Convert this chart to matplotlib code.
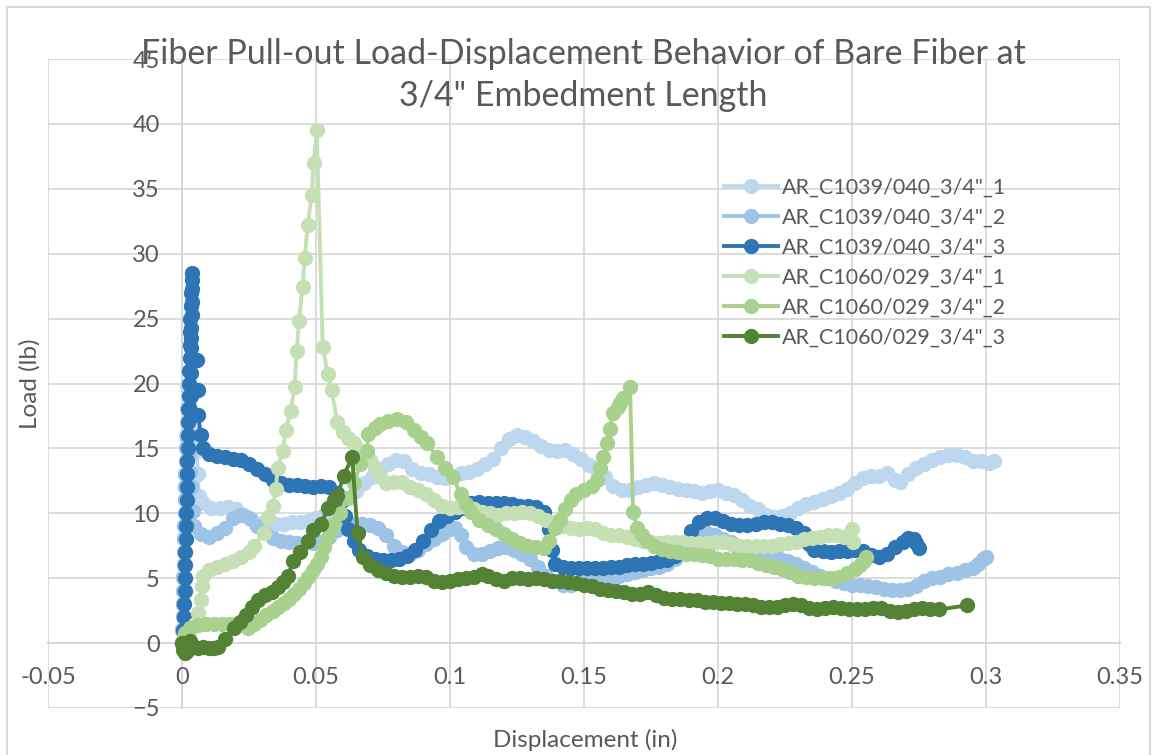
import matplotlib
matplotlib.use("Agg")
import matplotlib.pyplot as plt
from matplotlib.lines import Line2D

plt.rcParams['font.family'] = ['Lato', 'DejaVu Sans']

# ---- data (displacement in, load lb) ----
labels = [
    'AR_C1039/040_3/4"_1',
    'AR_C1039/040_3/4"_2',
    'AR_C1039/040_3/4"_3',
    'AR_C1060/029_3/4"_1',
    'AR_C1060/029_3/4"_2',
    'AR_C1060/029_3/4"_3',
]
colors = ['#BDD7EE', '#9DC3E6', '#2E75B6', '#C5E0B4', '#A9D18E', '#548235']

c1039_1_x = [0, 0.0001, 0.0002, 0.0003, 0.0004, 0.0005, 0.0006, 0.0007, 0.0008, 0.0009,
             0.001, 0.0011, 0.0012, 0.0013, 0.0014, 0.0015, 0.0016, 0.0017, 0.0018, 0.002,
             0.003, 0.0045, 0.0055, 0.006, 0.0062, 0.008, 0.011, 0.014, 0.017, 0.020,
             0.023, 0.026, 0.029, 0.032, 0.035, 0.038, 0.041, 0.044, 0.047, 0.050,
             0.053, 0.056, 0.059, 0.062, 0.065, 0.068, 0.071, 0.074, 0.077, 0.080,
             0.083, 0.086, 0.089, 0.092, 0.095, 0.098, 0.101, 0.104, 0.107, 0.110,
             0.113, 0.116, 0.119, 0.122, 0.125, 0.128, 0.131, 0.134, 0.137, 0.140,
             0.143, 0.146, 0.149, 0.152, 0.155, 0.158, 0.161, 0.164, 0.167, 0.170,
             0.173, 0.176, 0.179, 0.182, 0.185, 0.188, 0.191, 0.194, 0.197, 0.200,
             0.203, 0.206, 0.209, 0.212, 0.215, 0.218, 0.221, 0.224, 0.227, 0.230,
             0.233, 0.236, 0.239, 0.242, 0.245, 0.248, 0.251, 0.254, 0.257, 0.260,
             0.263, 0.266, 0.268, 0.271, 0.274, 0.277, 0.280, 0.283, 0.286, 0.289,
             0.292, 0.295, 0.298, 0.301, 0.303]
c1039_1_y = [0, 1.1, 2.0, 3.1, 4.0, 5.0, 6.1, 7.0, 8.0, 9.1,
             10.0, 11.0, 12.1, 13.0, 14.0, 15.1, 16.0, 17.0, 18.1, 19.8,
             19.0, 16.5, 14.8, 13.0, 11.3, 10.8, 10.4, 10.4, 10.5, 10.3,
             9.9, 9.5, 9.2, 9.1, 9.2, 9.2, 9.3, 9.3, 9.4, 9.6,
             9.9, 10.3, 10.8, 11.2, 11.7, 12.3, 12.8, 13.3, 13.8, 14.1,
             14.0, 13.4, 13.1, 13.0, 12.8, 12.7, 12.9, 13.1, 13.2, 13.4,
             13.8, 14.2, 15.0, 15.7, 16.0, 15.9, 15.6, 15.2, 14.9, 14.8,
             14.9, 14.6, 14.2, 13.7, 13.3, 12.8, 12.1, 11.8, 11.8, 12.0,
             12.2, 12.3, 12.2, 12.0, 11.9, 11.8, 11.7, 11.6, 11.7, 11.8,
             11.6, 11.4, 11.0, 10.6, 10.3, 9.9, 9.7, 9.8, 10.0, 10.4,
             10.7, 10.9, 11.1, 11.3, 11.6, 11.9, 12.3, 12.7, 12.9, 12.9,
             13.1, 12.6, 12.4, 13.0, 13.5, 13.8, 14.1, 14.3, 14.5, 14.5,
             14.3, 14.0, 14.0, 13.9, 14.0]

c1039_2_x = [0, 0.0001, 0.0002, 0.0003, 0.0004, 0.0005, 0.0006, 0.0007, 0.0008, 0.0009,
             0.001, 0.0011, 0.0012, 0.0013, 0.0014, 0.0015, 0.0017, 0.0025, 0.003, 0.0035,
             0.004, 0.0045, 0.007, 0.010, 0.013, 0.016, 0.019, 0.022, 0.025, 0.028,
             0.031, 0.034, 0.037, 0.040, 0.043, 0.046, 0.049, 0.052, 0.055, 0.058,
             0.061, 0.064, 0.067, 0.070, 0.073, 0.076, 0.079, 0.082, 0.085, 0.088,
             0.091, 0.094, 0.097, 0.100, 0.102, 0.104, 0.106, 0.109, 0.112, 0.115,
             0.118, 0.121, 0.124, 0.127, 0.130, 0.133, 0.136, 0.139, 0.142, 0.145,
             0.148, 0.151, 0.154, 0.157, 0.160, 0.163, 0.166, 0.169, 0.172, 0.175,
             0.178, 0.181, 0.184, 0.187, 0.190, 0.193, 0.196, 0.199, 0.202, 0.205,
             0.208, 0.211, 0.214, 0.217, 0.220, 0.223, 0.226, 0.229, 0.232, 0.235,
             0.238, 0.241, 0.244, 0.247, 0.250, 0.253, 0.256, 0.259, 0.262, 0.265,
             0.268, 0.271, 0.274, 0.277, 0.280, 0.283, 0.286, 0.289, 0.292, 0.295,
             0.297, 0.299, 0.300]
c1039_2_y = [0, 1.0, 2.1, 3.0, 4.0, 5.1, 6.0, 7.0, 8.1, 9.0,
             10.0, 11.1, 12.0, 13.0, 14.0, 15.0, 15.8, 14.5, 13.2, 12.0,
             10.2, 9.0, 8.4, 8.2, 8.5, 8.9, 9.6, 9.9, 9.6, 9.0,
             8.5, 8.1, 7.9, 7.8, 7.7, 7.7, 7.7, 7.8, 8.2, 8.7,
             9.0, 9.2, 9.2, 9.1, 8.9, 8.3, 7.5, 7.0, 6.9, 7.2,
             7.6, 8.0, 8.4, 8.8, 8.9, 8.3, 7.4, 6.9, 6.9, 7.1,
             7.3, 7.4, 7.2, 6.9, 6.5, 5.9, 5.2, 4.8, 4.5, 4.5,
             4.7, 5.0, 5.1, 5.1, 5.1, 5.2, 5.3, 5.5, 5.6, 5.8,
             5.9, 6.1, 6.5, 7.3, 8.0, 8.4, 8.5, 8.3, 8.0, 7.8,
             7.5, 7.3, 7.1, 6.9, 6.7, 6.5, 6.3, 6.1, 5.8, 5.5,
             5.2, 5.0, 4.8, 4.6, 4.5, 4.5, 4.4, 4.3, 4.2, 4.1,
             4.1, 4.2, 4.4, 4.8, 5.0, 5.1, 5.3, 5.4, 5.6, 5.8,
             6.1, 6.5, 6.6]

c1039_3_x = [0, 0.0004, 0.0006, 0.0008, 0.001, 0.0011, 0.0012, 0.0013, 0.0014, 0.0015,
             0.0016, 0.0017, 0.0018, 0.0019, 0.002, 0.0021, 0.0022, 0.0023, 0.0024, 0.0025,
             0.0026, 0.0027, 0.0028, 0.0029, 0.003, 0.0031, 0.0032, 0.0034, 0.0036, 0.0038,
             0.0038, 0.0037, 0.0036, 0.0035, 0.0034, 0.0033, 0.0055, 0.0032, 0.006, 0.0035,
             0.006, 0.007, 0.008, 0.010, 0.013, 0.016, 0.019, 0.022, 0.025, 0.028,
             0.031, 0.034, 0.037, 0.040, 0.043, 0.046, 0.049, 0.052, 0.055, 0.058,
             0.060, 0.061, 0.062, 0.064, 0.066, 0.069, 0.072, 0.075, 0.078, 0.081,
             0.084, 0.087, 0.090, 0.093, 0.096, 0.099, 0.102, 0.105, 0.108, 0.111,
             0.114, 0.117, 0.120, 0.123, 0.126, 0.129, 0.132, 0.135, 0.137, 0.138,
             0.139, 0.142, 0.145, 0.148, 0.151, 0.154, 0.157, 0.160, 0.163, 0.166,
             0.169, 0.172, 0.175, 0.178, 0.181, 0.184, 0.187, 0.190, 0.193, 0.196,
             0.199, 0.202, 0.205, 0.208, 0.211, 0.214, 0.217, 0.220, 0.223, 0.226,
             0.229, 0.232, 0.234, 0.236, 0.239, 0.242, 0.245, 0.248, 0.251, 0.254,
             0.257, 0.260, 0.263, 0.266, 0.269, 0.271, 0.273, 0.274, 0.275]
c1039_3_y = [0, 1.0, 2.0, 3.0, 4.0, 5.0, 6.0, 7.0, 8.0, 9.0,
             10.0, 11.0, 12.0, 13.0, 14.0, 15.0, 16.0, 17.0, 18.0, 19.0,
             20.0, 21.0, 22.0, 23.0, 24.0, 25.0, 26.0, 27.0, 28.0, 28.5,
             27.3, 26.3, 25.3, 24.3, 23.5, 22.7, 21.8, 20.8, 19.5, 19.0,
             17.6, 16.0, 15.0, 14.6, 14.4, 14.3, 14.2, 14.1, 13.8, 13.4,
             13.0, 12.6, 12.3, 12.2, 12.2, 12.1, 12.0, 12.1, 12.0, 11.6,
             11.0, 9.8, 8.8, 7.9, 7.2, 6.7, 6.5, 6.4, 6.4, 6.5,
             6.7, 7.2, 7.9, 8.7, 9.4, 9.8, 10.1, 10.4, 10.8, 10.9,
             10.8, 10.8, 10.8, 10.7, 10.6, 10.6, 10.5, 10.1, 8.8, 7.2,
             6.1, 5.9, 5.8, 5.8, 5.8, 5.8, 5.8, 5.9, 5.9, 6.0,
             6.1, 6.1, 6.2, 6.3, 6.4, 6.7, 7.6, 8.6, 9.3, 9.6,
             9.6, 9.4, 9.2, 9.1, 9.1, 9.2, 9.3, 9.3, 9.2, 9.1,
             8.9, 8.5, 7.6, 7.2, 7.1, 7.0, 7.1, 7.1, 7.2, 7.1,
             6.8, 6.6, 6.9, 7.4, 7.8, 8.1, 8.0, 7.7, 7.3]

c1060_1_x = [0, 0.001, 0.003, 0.005, 0.006, 0.007, 0.0075, 0.008, 0.010, 0.013,
             0.016, 0.019, 0.022, 0.025, 0.027, 0.0305, 0.032, 0.0339, 0.035, 0.0357,
             0.0376, 0.0387, 0.0406, 0.042, 0.0428, 0.0436, 0.045, 0.0458, 0.0469, 0.0484,
             0.0491, 0.0503, 0.0525, 0.0544, 0.0558, 0.058, 0.060, 0.062, 0.064, 0.066,
             0.068, 0.070, 0.072, 0.074, 0.076, 0.079, 0.082, 0.085, 0.088, 0.091,
             0.094, 0.097, 0.100, 0.103, 0.106, 0.109, 0.112, 0.115, 0.118, 0.121,
             0.124, 0.127, 0.130, 0.133, 0.136, 0.139, 0.142, 0.145, 0.148, 0.151,
             0.154, 0.157, 0.160, 0.163, 0.166, 0.169, 0.172, 0.175, 0.178, 0.181,
             0.184, 0.187, 0.190, 0.193, 0.196, 0.199, 0.202, 0.205, 0.208, 0.211,
             0.214, 0.217, 0.220, 0.223, 0.226, 0.229, 0.232, 0.235, 0.238, 0.241,
             0.244, 0.247, 0.249, 0.250, 0.2503]
c1060_1_y = [0, 0.5, 1.0, 1.5, 2.3, 3.3, 4.4, 5.2, 5.6, 5.9,
             6.1, 6.3, 6.6, 7.0, 7.5, 8.5, 9.7, 10.6, 11.9, 13.5,
             14.8, 16.4, 17.9, 19.7, 22.5, 24.8, 27.4, 29.7, 32.2, 34.5,
             37.0, 39.5, 22.8, 20.7, 19.5, 17.0, 16.3, 15.8, 15.4, 14.9,
             14.5, 14.1, 13.6, 12.8, 12.3, 12.4, 12.4, 12.0, 11.8, 11.5,
             11.0, 10.6, 10.4, 10.5, 10.5, 10.3, 10.1, 10.0, 9.9, 10.0,
             10.0, 10.1, 10.0, 9.8, 9.5, 9.3, 9.0, 8.9, 8.8, 8.9,
             8.8, 8.5, 8.3, 8.3, 8.2, 8.0, 7.9, 7.8, 7.7, 7.8,
             7.8, 7.8, 7.7, 7.7, 7.7, 7.8, 7.8, 7.6, 7.5, 7.5,
             7.5, 7.5, 7.5, 7.6, 7.7, 7.8, 8.0, 8.1, 8.2, 8.3,
             8.3, 8.2, 8.3, 8.8, 7.8]

c1060_2_x = [0, 0.001, 0.003, 0.006, 0.009, 0.012, 0.015, 0.018, 0.021, 0.0246,
             0.027, 0.029, 0.0315, 0.034, 0.036, 0.038, 0.040, 0.0417, 0.0435, 0.0454,
             0.047, 0.049, 0.0505, 0.0517, 0.053, 0.0543, 0.0555, 0.0566, 0.059, 0.0618,
             0.064, 0.0666, 0.069, 0.0695, 0.072, 0.074, 0.077, 0.0804, 0.0835, 0.0864,
             0.089, 0.0916, 0.0953, 0.098, 0.101, 0.104, 0.106, 0.108, 0.111, 0.114,
             0.117, 0.120, 0.123, 0.126, 0.129, 0.132, 0.135, 0.137, 0.139, 0.141,
             0.143, 0.145, 0.147, 0.150, 0.153, 0.155, 0.156, 0.157, 0.1585, 0.1597,
             0.1608, 0.1625, 0.1634, 0.1646, 0.1672, 0.1683, 0.1698, 0.1715, 0.1735, 0.176,
             0.179, 0.182, 0.185, 0.188, 0.191, 0.194, 0.197, 0.200, 0.203, 0.206,
             0.209, 0.212, 0.215, 0.218, 0.221, 0.224, 0.227, 0.230, 0.233, 0.236,
             0.239, 0.242, 0.245, 0.248, 0.251, 0.2528, 0.2545, 0.2554]
c1060_2_y = [0, 0.8, 1.2, 1.4, 1.5, 1.5, 1.5, 1.5, 1.4, 1.2,
             1.5, 1.8, 2.2, 2.5, 2.8, 3.1, 3.4, 3.8, 4.2, 4.6,
             5.1, 5.6, 6.1, 6.6, 7.4, 8.2, 8.7, 9.2, 10.0, 11.2,
             12.3, 13.8, 14.8, 16.1, 16.6, 16.9, 17.1, 17.3, 17.0, 16.4,
             15.9, 15.4, 14.3, 13.5, 12.8, 11.5, 10.7, 10.1, 9.5, 9.1,
             8.8, 8.4, 8.0, 7.7, 7.5, 7.4, 7.3, 7.9, 8.9, 9.5,
             10.3, 11.0, 11.5, 11.8, 12.1, 12.6, 13.5, 14.3, 15.4, 16.5,
             17.7, 18.2, 18.5, 18.9, 19.7, 10.1, 8.9, 8.3, 7.9, 7.5,
             7.25, 7.1, 7.0, 6.9, 6.9, 6.8, 6.7, 6.5, 6.5, 6.5,
             6.4, 6.4, 6.2, 6.0, 5.9, 5.7, 5.5, 5.2, 5.1, 5.0,
             5.0, 5.0, 5.1, 5.4, 5.7, 6.0, 6.3, 6.6]

c1060_3_x = [0, 0.0005, 0.001, 0.002, 0.003, 0.004, 0.006, 0.008, 0.010, 0.012,
             0.0134, 0.016, 0.0194, 0.0215, 0.0238, 0.0262, 0.0285, 0.031, 0.0335, 0.036,
             0.0378, 0.0395, 0.0415, 0.044, 0.047, 0.049, 0.052, 0.0544, 0.0566, 0.058,
             0.0603, 0.0635, 0.0655, 0.0674, 0.070, 0.073, 0.076, 0.079, 0.082, 0.085,
             0.088, 0.091, 0.094, 0.097, 0.100, 0.103, 0.106, 0.109, 0.112, 0.114,
             0.117, 0.120, 0.123, 0.126, 0.129, 0.132, 0.135, 0.138, 0.141, 0.144,
             0.147, 0.150, 0.153, 0.156, 0.159, 0.162, 0.165, 0.168, 0.171, 0.174,
             0.177, 0.180, 0.183, 0.186, 0.189, 0.192, 0.195, 0.198, 0.201, 0.204,
             0.207, 0.210, 0.213, 0.216, 0.219, 0.222, 0.225, 0.228, 0.231, 0.234,
             0.237, 0.240, 0.243, 0.246, 0.249, 0.252, 0.255, 0.258, 0.261, 0.264,
             0.267, 0.270, 0.273, 0.276, 0.279, 0.2826, 0.293]
c1060_3_y = [0, -0.5, -0.8, -0.6, 0.2, -0.2, -0.4, -0.3, -0.4, -0.4,
             -0.3, 0.3, 1.15, 1.6, 2.2, 2.8, 3.3, 3.7, 3.9, 4.3,
             4.7, 5.2, 6.3, 7.0, 7.9, 8.7, 9.2, 10.4, 11.0, 11.3,
             12.9, 14.3, 8.5, 6.6, 6.0, 5.6, 5.4, 5.2, 5.1, 5.1,
             5.2, 5.1, 4.8, 4.7, 4.8, 4.9, 5.0, 5.1, 5.3, 5.2,
             4.9, 4.8, 5.0, 5.0, 4.9, 5.0, 4.9, 4.8, 4.8, 4.7,
             4.6, 4.5, 4.4, 4.2, 4.1, 4.0, 3.9, 3.8, 3.8, 3.9,
             3.7, 3.5, 3.4, 3.4, 3.3, 3.3, 3.2, 3.2, 3.1, 3.1,
             3.0, 3.0, 2.9, 2.8, 2.8, 2.8, 2.9, 3.0, 2.9, 2.7,
             2.6, 2.7, 2.8, 2.7, 2.6, 2.6, 2.6, 2.7, 2.7, 2.5,
             2.4, 2.5, 2.6, 2.7, 2.6, 2.6, 2.9]

series_x = [c1039_1_x, c1039_2_x, c1039_3_x, c1060_1_x, c1060_2_x, c1060_3_x]
series_y = [c1039_1_y, c1039_2_y, c1039_3_y, c1060_1_y, c1060_2_y, c1060_3_y]

x_ticks = [-0.05, 0, 0.05, 0.1, 0.15, 0.2, 0.25, 0.3, 0.35]
x_tick_labels = ['-0.05', '0', '0.05', '0.1', '0.15', '0.2', '0.25', '0.3', '0.35']
y_ticks = [-5, 0, 5, 10, 15, 20, 25, 30, 35, 40, 45]

title = 'Fiber Pull-out Load-Displacement Behavior of Bare Fiber at\n3/4" Embedment Length'
text_color = '#595959'
grid_color = '#d9d9d9'

W, H = 1157, 755
fig = plt.figure(figsize=(W / 100, H / 100), dpi=100)
ax = fig.add_axes([48 / W, 1 - 708 / H, (1120 - 48) / W, (708 - 59) / H])

for xs, ys, c, lab in zip(series_x, series_y, colors, labels):
    ax.plot(xs, ys, color=c, lw=2.8, marker='o', markersize=10,
            markeredgecolor=c, markerfacecolor=c, label=lab, clip_on=False)

ax.set_xlim(-0.05, 0.35)
ax.set_ylim(-5, 45)
ax.set_xticks(x_ticks)
ax.set_xticklabels(x_tick_labels)
ax.set_yticks(y_ticks)
ax.grid(True, color=grid_color, lw=1.3)
ax.set_axisbelow(True)

for s in ['top', 'right']:
    ax.spines[s].set_visible(False)
for s in ['left', 'bottom']:
    ax.spines[s].set_position(('data', 0))
    ax.spines[s].set_color('#bfbfbf')
    ax.spines[s].set_linewidth(1.3)
    ax.spines[s].set_zorder(0.5)
ax.tick_params(length=0, labelsize=17, labelcolor=text_color)
ax.tick_params(axis='y', pad=16)
ax.tick_params(axis='x', pad=17)

ax.set_xlabel('Displacement (in)', fontsize=17.5, color=text_color)
ax.set_ylabel('Load (lb)', fontsize=17.5, color=text_color)
ax.xaxis.label.set_va('center')
ax.yaxis.label.set_va('center')
ax.xaxis.set_label_coords(0.501, -0.049)
ax.yaxis.set_label_coords(-0.0165, 0.5)

fig.text(583 / W, 1 - 75 / H, title, ha='center', va='center', fontsize=24.5,
         color=text_color, linespacing=1.38)

handles = [Line2D([0], [0], color=c, lw=2.8, marker='o', markersize=10) for c in colors]
leg = ax.legend(handles, labels, loc='upper left', bbox_to_anchor=(713 / W, 1 - 167 / H),
                bbox_transform=fig.transFigure, frameon=False, fontsize=15.5,
                handlelength=2.5, handletextpad=0.19, labelspacing=0.46, borderpad=0)
for t in leg.get_texts():
    t.set_color(text_color)

# chart border
fig.add_artist(plt.Rectangle((7 / W, -0.01), (1150 - 7) / W, 1 - 7 / H + 0.01,
                             transform=fig.transFigure, fill=False,
                             edgecolor='#d9d9d9', lw=1.5))

fig.savefig('out.png', dpi=100)
